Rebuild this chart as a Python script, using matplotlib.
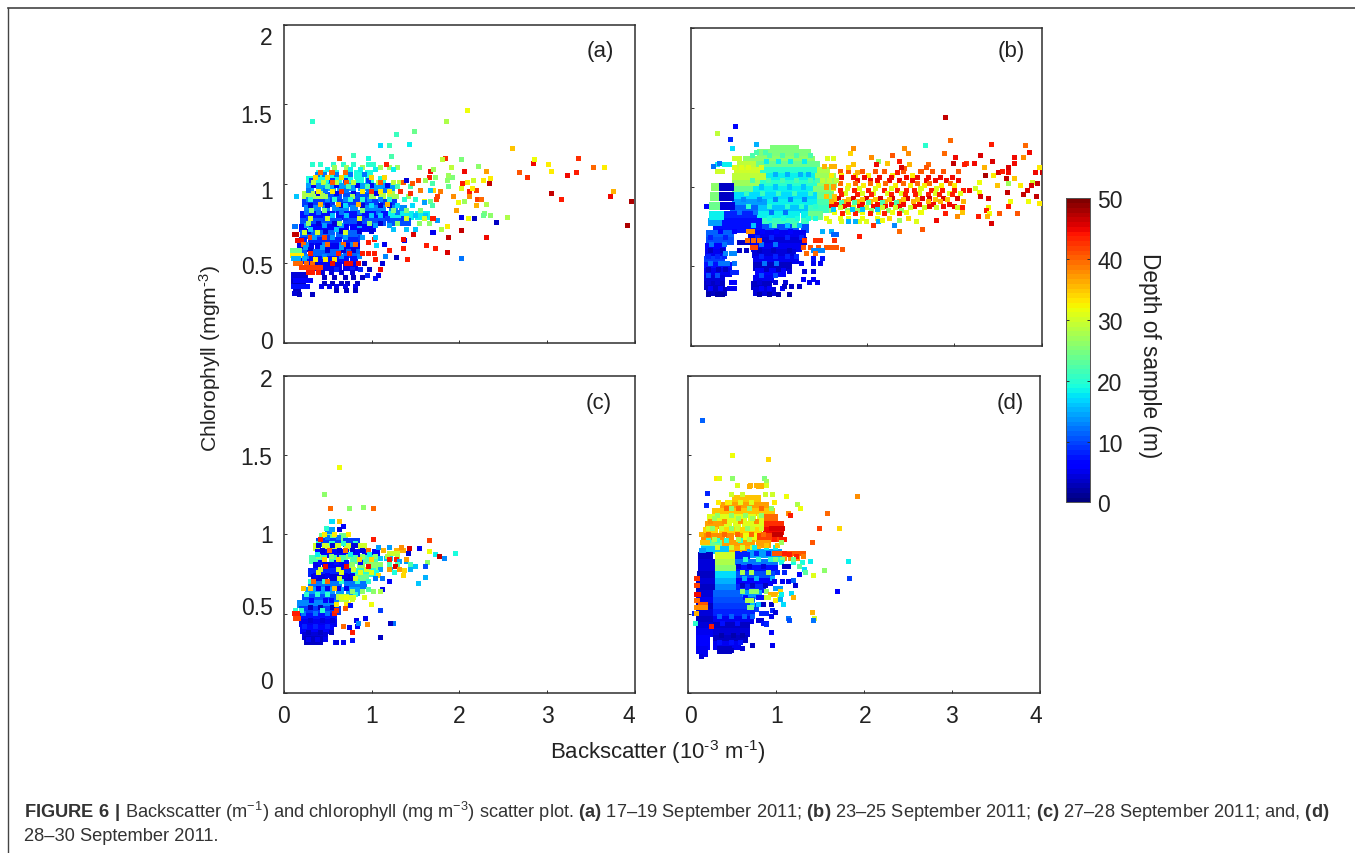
import matplotlib
matplotlib.use("Agg")
import matplotlib.pyplot as plt
from matplotlib.colors import Normalize
from matplotlib.cm import ScalarMappable
from matplotlib.lines import Line2D
from matplotlib.transforms import Affine2D

plt.rcParams['font.family'] = ['Liberation Sans', 'DejaVu Sans']
plt.rcParams['mathtext.fontset'] = 'custom'
plt.rcParams['mathtext.rm'] = 'Liberation Sans'
plt.rcParams['mathtext.bf'] = 'Liberation Sans:bold'
plt.rcParams['mathtext.default'] = 'regular'

# rows: (chlorophyll, depth, [backscatter...]); pts: (backscatter, chlorophyll, depth)
a_fill = [
 (1.06,19,[.42,.58,.72,.85,.97]),
 (1.02,19,[.3,.4,.5,.62,.74,.86,.98,1.12]),
 (.98,14,[.3,.42,.55,.66,.78,.9,1.0,1.1,1.22]),
 (.93,28,[.26,.33,.42,1.0,1.12,1.22]),
 (.92,10,[.52,.62,.72,.82,.92]),
 (.88,9,[.26,.34,.44,.54,.64,.74,.84,.94,1.04,1.14,1.24]),
 (.84,13,[.28,.38,.48,.6,.7,.8,.92,1.02,1.12,1.25,1.36]),
 (.8,7,[.24,.34,.44,.54,.64,.74,.84,.94,1.04,1.14]),
 (.8,18,[1.24,1.34,1.44,1.54,1.62]),
 (.76,10,[.24,.32,.42,.52,.62,.72,.82,.92,1.02,1.12,1.22,1.32,1.4]),
 (.72,6,[.22,.32,.42,.5,.6,.7,.8,.9,1.0]),
 (.68,11,[.24,.34,.44,.54,.64,.74,.84]),
 (.64,8,[.22,.32,.42,.52,.62,.72,.82]),
 (.6,5,[.2,.3,.4,.5,.6,.72,.82]),
 (.56,11,[.22,.32,.42,.52,.62,.72,.82]),
 (.52,7,[.2,.3,.4,.5,.6,.7,.8]),
 (.48,5,[.32,.42,.52,.62,.72,.8]),
 (.42,4,[.13,.18,.23]),
 (.37,3,[.13,.17,.2]),
]
a_rows = [
 (1.06,12,[.38,.46,.6,.76,.92]), (1.02,9,[.32,.55,.7,.96]), (.99,5,[.34,.6,.84,1.0,1.18]), (.96,12,[.28,.48,.72,.96,1.16]),
 (.94,5,[.38,.6,.8,1.06]), (.9,13,[.28,.5,.7,.98,1.1]), (.86,4,[.3,.5,.66,.9,1.1,1.2]), (.82,12,[.26,.4,.66,.86,1.08,1.3]),
 (.78,9,[.28,.48,.7,.9,1.18,1.36]), (.74,14,[.26,.46,.66,.86,1.04,1.2]), (.7,4,[.28,.48,.66,.86,1.0]), (.66,9,[.3,.5,.7,.88]),
 (.62,13,[.26,.46,.66,.78]), (.58,4,[.3,.5,.68,.8]), (.54,13,[.26,.46,.66,.86]), (.5,3,[.36,.56,.76,.92]), (.46,8,[.4,.6,.78,.88]),
 (.44,4,[.44,.54,.66,.78]),
 (.58,24,[.1,.14,.18]), (.55,33,[.1,.15,.2]), (.53,15,[.11,.17,.24]),
 (.5,40,[.13,.19,.26,.33]), (.47,42,[.2,.25,.3,.36,.42]), (.44,44,[.28,.33,.4]),
 (.33,3,[.13,.17,.15]), (.31,4,[.12,.14]), (.35,7,[.11,.16,.21,.27]),
 (.39,6,[.14,.19,.25,.3]), (.37,3,[.47,.56,.66,.73,.84]), (.35,5,[.43,.52,.6,.7,.82]),
 (.33,3,[.6,.72,.82]), (.41,3,[.46,.58,.7,.8,.9]),
 (.68,47,[.12,.15]), (.73,12,[.12,.13]), (.64,45,[.16,.2]), (.66,42,[.3,.46]),
 (1.12,20,[.33,.42,.57,.68,.8,.96,1.02]), (1.1,27,[.58,.72,.9,1.1,1.2,1.3]),
 (1.09,18,[.5,.76,.88,1.05,1.25]), (1.07,40,[.42,.55,.7]), (1.04,34,[.36,.5,.66,1.0,1.15]),
 (1.01,29,[.34,.45,.6,.8,1.08,1.25,1.32]), (1.01,41,[.56,.72,1.1,1.36]), (.98,22,[.5,.74,.95,1.3,1.44]),
 (.95,33,[.4,.56,.9,1.1,1.2]), (.95,43,[.66,1.0,1.33]), (.92,27,[.34,.48,.78,1.0,1.28,1.42]),
 (.9,20,[.3,.58,.76,.9,1.2,1.38,1.5]), (.87,36,[.42,.62,.85,1.18]), (.86,17,[.7,1.0,1.3,1.47]),
 (.83,25,[.32,.46,.9,1.25,1.4,1.56]), (.8,16,[.56,.72,1.0,1.1,1.5,1.62]), (.78,30,[.3,.5,.86,1.4,1.6]),
 (.75,26,[.28,.64,.98,1.3,1.55,1.66]), (.75,4,[.4,.58,.86,1.1]), (.71,16,[.3,.6,1.25,1.4,1.5]),
 (.69,30,[.24,.38,.7]), (.66,14,[.35,.56,.7,.9]), (.62,40,[.22,.5,.68,.82]), (.6,14,[.25,.44,.66]),
 (.56,44,[.3,.62,.75,.9,.96]), (.52,33,[.36,.48,.58]), (.5,45,[.56,.72,.85,.76]),
]
a_pts = [
 (.33,1.39,20),(2.09,1.46,32),(1.856,1.39,28),(1.49,1.33,24),(1.29,1.31,21),(1.1,1.24,17),(1.2,1.24,21),
 (1.43,1.25,18),(1.23,1.17,22),(.8,1.18,21),(.96,1.16,19),(.64,1.16,41),(1.17,1.12,44),(1.84,1.16,43),
 (2.02,1.15,25),(2.22,1.11,26),(2.61,1.22,35),(2.84,1.13,45),(2.86,1.15,32),(3.01,1.12,33),(3.05,1.08,33),
 (3.36,1.16,43),(3.53,1.1,40),(3.65,1.1,33),(3.33,1.07,44),(3.23,1.05,45),(2.69,1.07,41),(2.78,1.04,43),
 (3.05,.94,47),(3.16,.9,44),(3.76,.95,36),(3.72,.92,45),(3.96,.89,48),(3.92,.74,48),(2.55,.79,28),(2.42,.755,3),
 (2.31,.66,45),(2.02,.53,12),(1.87,.57,46),(2.02,.705,47),(1.88,.66,47),(1.87,.73,33),(1.8,.71,28),(1.63,.61,44),
 (1.73,.59,44),(1.41,.52,44),(1.29,.535,3),(1.36,.59,44),(1.2,.58,44),(.15,.92,16),
 (1.67,1.08,45),(1.66,1.04,44),(2.06,1.08,45),(2.31,1.08,37),(2.36,1.03,33),(2.34,1.0,47),(2.27,1.02,33),
 (2.16,1.02,30),(2.09,1.01,33),(2.04,1.0,44),(2.02,.97,31),(2.11,.95,44),(2.19,.96,42),(2.15,.97,33),(2.11,.92,38),
 (2.21,.9,42),(2.25,.9,40),(2.06,.89,27),(1.99,.88,32),(1.93,.92,38),(2.31,.87,28),(2.2,.86,36),(1.97,.83,37),
 (2.29,.81,25),(2.35,.8,26),(2.27,.8,24),(2.1,.78,32),(2.17,.78,3),(2.03,.79,5),(1.75,.77,14),(1.78,.95,39),
 (1.75,.92,42),(1.6,.89,32),(1.67,.89,24),(1.6,.88,14),(1.69,.86,22),(1.74,.9,42),(1.56,.96,39),(1.71,.96,34),
 (1.67,.96,16),(1.88,.985,24),(1.86,1.02,26),(1.92,1.04,25),(1.88,1.055,27),(1.91,1.1,29),(1.81,1.15,29),
 (1.73,1.04,26),(1.71,1.09,27),(1.55,1.1,25),(1.53,1.02,42),(1.47,1.0,41),(1.61,1.02,27),(1.69,1.0,22),
 (1.44,.94,43),(1.4,1.02,4),(1.7,.78,44),(1.7,.69,5),(1.48,.68,46),(1.38,.64,5),(1.36,.65,45),(1.15,.62,5),
 (1.06,.61,17),(.96,.63,44),(1.03,.65,44),(1.05,.66,16),(1.1,.46,45),(1.16,.54,13),(1.13,.5,4),(1.05,.52,44),
 (1.03,.56,44),(.98,.46,3),(.95,.42,8),(1.05,.405,7),(1.08,.42,5),(.33,.3,3),(.18,.3,3),
]

b_fill = [
 (1.24,25,[.95,1.02,1.1,1.18]), (1.21,25,[.8,.88,.94,1.02,1.1,1.18,1.26,1.32]),
 (1.17,26,[.64,.72,.8,.88,.96,1.04,1.12,1.2,1.28,1.36]),
 (1.14,29,[.58,.65,.71]), (1.14,24,[.79,.87,.95,1.03,1.11,1.19,1.27,1.35,1.42]),
 (1.1,30,[.54,.6,.68,.76]), (1.1,20,[.84,.92,1.0,1.08,1.16,1.24,1.32,1.4]), (1.1,28,[1.48,1.54]),
 (1.06,29,[.52,.58,.66,.74,.82]), (1.06,18,[.9,.98,1.06,1.14,1.22,1.3,1.38]), (1.06,27,[1.46,1.54,1.6]),
 (1.02,27,[.52,.6,.68,.76]), (1.02,20,[.84,.92,1.0,1.08,1.16,1.24,1.32,1.4]), (1.02,27,[1.48,1.56,1.62]),
 (.98,24,[.52,.6,.68]), (.98,18,[.76,.84,.92,1.0,1.08,1.16,1.24,1.32,1.38]), (.98,25,[1.44,1.52,1.58]),
 (.94,17,[.52,.6,.68,.76,.84,.92,1.0,1.08,1.16,1.24,1.32,1.4]), (.94,24,[1.48,1.56]),
 (.9,14,[.52,.6,.68,.76,.84]), (.9,18,[.92,1.0,1.08,1.16,1.24,1.32,1.4]), (.9,22,[1.48,1.54]),
 (.86,11,[.5,.58,.66,.74]), (.86,16,[.82,.9,.98,1.06,1.14,1.22,1.3]), (.86,21,[1.38,1.46,1.52]),
 (.82,8,[.4,.48,.56,.64,.72]), (.82,18,[.8,.88,.96,1.04,1.12,1.2,1.3]), (.82,24,[1.38,1.46]),
 (.78,7,[.36,.44,.52,.6,.68,.78]), (.78,21,[.86,.94,1.02,1.1,1.18,1.3]),
 (.74,7,[.3,.38,.46,.54,.62,.7,.78]), (.74,10,[.86,.94,1.02,1.1,1.18,1.3]),
 (.78,14,[.24,.31]), (.82,18,[.26,.33]), (.88,24,[.26,.31]), (.94,25,[.27,.32]), (1.0,26,[.28,.33]),
 (1.0,3,[.37,.44]), (.94,3,[.37,.44]), (.88,4,[.38,.45]),
 (.7,11,[.22,.28,.36,.44]), (.7,5,[.7,.78,.86,.94,1.02,1.1,1.18,1.26]),
 (.66,10,[.22,.28,.36,.44]), (.66,4,[.72,.8,.88,.96,1.04,1.12,1.2,1.28]),
 (.62,6,[.21,.27,.35]), (.62,5,[.74,.82,.9,.98,1.06,1.14,1.22]),
 (.58,5,[.21,.26,.34]), (.58,4,[.75,.83,.91,.99,1.07,1.15]),
 (.54,9,[.2,.26,.34]), (.54,5,[.76,.84,.92,1.0,1.08,1.18]),
 (.5,7,[.2,.26,.34,.42]), (.5,3,[.76,.84,.92,1.0,1.1]),
 (.46,5,[.2,.26,.34,.42]), (.46,6,[.78,.86,.94,1.04]),
 (.42,4,[.2,.26,.34]), (.42,5,[.76,.82,.9]),
 (.38,3,[.2,.26,.34]), (.38,3,[.74,.8,.88]),
 (.34,3,[.22,.28,.36]), (.34,4,[.76,.84,.92]),
]
b_rows = [
 (1.2,22,[.7,.9,1.05,1.2,1.36]), (1.16,18,[.86,1.0,1.14,1.3]), (1.12,31,[.5,.58,.66,.8]), (1.08,15,[.96,1.1,1.25,1.34]),
 (1.04,22,[.7,.88,1.04,1.2,1.36,1.44]), (1.0,16,[.8,.96,1.12,1.28]), (.96,21,[.64,.82,1.0,1.18,1.36]), (.92,13,[.6,.78,.96,1.14,1.3]),
 (.88,20,[.66,.9,1.1,1.26,1.42]), (.84,12,[.56,.74,.92,1.08]), (.8,19,[.9,1.06,1.22,1.34,1.42]), (.76,16,[.72,.92,1.1,1.24]),
 (.76,22,[.95,1.18]), (.72,6,[.34,.5,.66,.82,.98,1.14]), (.68,8,[.22,.4,.76,.92,1.1,1.26]), (.64,12,[.24,.38,.8,.96]),
 (.6,3,[.22,.36,.78,.94,1.12]), (.56,8,[.2,.3,.38,.8,.96,1.1,1.2]), (.52,12,[.22,.34,.84,.98]), (.48,3,[.2,.32,.4,.86,1.0]),
 (.44,10,[.2,.3,.8,.96]), (.4,4,[.2,.3,.78,.96,1.08]), (.36,6,[.22,.34,.8,.9,1.04]), (.32,2,[.2,.3,.36,.78,.9,1.0,1.12]),
 (1.1,41,[1.7,1.8,1.95,2.1,2.2,2.42,2.62,2.75,2.88,3.05]), (1.07,33,[1.6,1.72,1.88,2.02,2.3,2.52]),
 (1.06,45,[1.72,1.85,1.98,2.15,2.28,2.46,2.58,2.7,2.84,2.98]),
 (1.04,45,[1.9,2.04,2.12,2.26,2.37,2.52,2.68,2.78,2.91,3.05]), (1.02,40,[1.7,1.88,2.05,2.22,2.42,2.58,2.72,2.96]),
 (1.01,33,[1.8,1.97,2.14,2.33,2.5,2.66,2.85,3.0]), (.99,31,[1.62,1.78,1.92,2.1,2.28,2.62,2.8]),
 (.98,44,[1.7,1.86,2.02,2.2,2.35,2.45,2.55,2.74,2.87,3.0,3.1]), (.96,31,[1.76,1.95,2.08,2.24,2.4,2.6,2.78,2.94,3.07]),
 (.95,44,[1.72,1.9,2.06,2.28,2.44,2.56,2.7,2.83,2.98]), (.93,46,[1.68,1.85,2.0,2.16,2.3,2.47,2.64,2.72,2.88,3.03]),
 (.92,35,[1.64,1.8,1.96,2.1,2.26,2.42,2.58,2.78,2.92]), (.91,36,[1.6,1.75,1.9,2.05,2.22,2.38,2.53,2.7,2.84,3.1]),
 (.9,22,[1.72,1.86,2.02,2.18,2.34]), (.89,45,[1.66,1.8,1.96,2.12,2.28,2.42,2.6,2.76,2.94]),
 (.88,45,[1.6,1.75,1.92,2.08,2.22,2.38,2.55,2.72,2.88,3.0]), (.87,30,[1.7,1.85,2.0,2.18,2.33,2.5,2.66,2.8,3.04]),
 (.85,26,[1.6,1.78,1.9,2.06,2.25,2.4]), (.84,32,[1.64,1.8,1.96,2.14,2.3,2.46,2.62]), (.83,44,[1.73,1.88,2.04,2.2,2.38,2.9]), (.86,16,[1.62,1.84,1.96,2.12]),
 (.8,32,[1.55,1.7,1.8,1.95,2.12]), (.78,31,[1.58,1.72,1.92,2.0]), (.78,15,[1.8,1.88,2.14]),
 (1.0,37,[1.55,1.62]), (1.04,29,[1.5,1.58,1.66]), (1.13,36,[1.52,1.6,1.64]), (1.18,31,[1.56,1.62]),
 (.94,35,[1.55,1.64]), (.72,15,[1.5,1.6]), (.7,11,[1.62,1.66]), (.66,43,[1.3,1.42,1.48,1.64]),
 (.62,41,[1.28,1.36,1.45,1.55,1.6,1.66]), (.6,13,[1.4,1.45,1.5]), (.58,40,[1.32,1.42]), (.55,7,[1.4,1.5]),
 (.52,5,[1.26,1.4,1.48]), (.47,4,[1.12,1.3,1.4]), (.42,6,[1.28,1.4]), (.4,5,[1.35,1.44]), (.37,3,[1.07,1.15,1.24]),
 (.58,13,[.4,.46,.5]), (.52,12,[.36,.42,.5]), (.46,8,[.48,.52]), (.4,6,[.46,.5]), (.36,5,[.44,.5]),
 (.65,3,[.55,.6,.66]), (.6,3,[.55,.64]), (.66,40,[.65,.72,.78]), (.62,42,[.7,.74]), (.72,38,[.66,.7]),
 (1.22,22,[.75,.85]), (1.18,30,[.5,.56]), (1.14,18,[.3,.38,.44]), (1.1,30,[.3,.36]),
]
b_pts = [
 (2.9,1.44,47),(.515,1.38,6),(.31,1.34,29),(2.96,1.29,40),(2.67,1.26,20),(3.42,1.265,44),(3.81,1.26,40),(3.85,1.22,45),
 (2.89,1.21,40),(3.3,1.2,46),(3.68,1.185,45),(3.79,1.185,38),(3.01,1.185,45),(3.43,1.16,46),(2.99,1.15,47),(3.14,1.15,43),
 (3.11,1.14,44),(3.23,1.15,45),(3.34,1.125,36),(3.61,1.125,46),(3.97,1.125,33),(3.68,1.15,45),(3.92,1.09,45),(4.0,1.09,47),
 (3.62,1.09,45),(3.5,1.09,46),(3.55,1.1,44),(3.35,1.07,48),(3.44,1.07,33),(3.59,1.055,47),(3.68,1.055,35),(3.28,1.03,32),
 (3.61,1.025,27),(3.49,1.01,35),(3.75,1.01,33),(3.89,1.03,30),(3.94,1.02,47),(3.88,1.01,46),(3.17,.975,45),(3.24,.99,30),
 (3.28,.965,32),(3.3,.94,46),(3.39,.93,46),(3.6,.965,47),(3.83,.975,46),(3.79,.955,47),(3.93,.94,47),(3.64,.91,32),
 (3.61,.88,44),(3.84,.91,32),(3.97,.895,33),(3.39,.87,32),(3.37,.85,44),(3.4,.835,32),(3.51,.835,41),(3.72,.835,41),
 (3.27,.815,44),(3.38,.815,36),(3.42,.77,46),(3.09,.87,44),(3.09,.84,35),(3.04,.815,38),(2.8,.79,45),(2.64,.73,41),
 (2.37,.72,40),(2.32,.755,13),(2.08,.755,43),(1.92,.685,44),(1.73,.605,41),(2.57,.78,31),(2.48,.8,34),(2.26,.8,34),
 (2.18,.79,32),(2.38,.79,27),(1.85,1.245,38),(1.82,1.21,34),(2.06,1.185,38),(2.43,1.245,38),(2.48,1.21,38),(2.3,1.2,41),
 (2.38,1.16,44),(2.24,1.15,35),(2.14,1.16,26),(2.11,1.14,45),(2.49,1.14,36),(2.43,1.115,41),(2.4,1.125,46),(2.71,1.14,40),
 (2.68,1.125,41),(2.35,1.09,44),(1.85,1.14,35),(1.8,1.125,34),(1.9,1.09,36),(.45,1.3,8),(.33,1.15,12),(.26,1.13,12),
 (.18,.88,6),(.75,1.27,15),(.48,1.24,17),
]

c_fill = [
 (.98,24,[.45,.55,.68]), (.95,9,[.42,.5,.6,.72,.82]), (.92,30,[.38,.48,.6,.74,.9]),
 (.88,6,[.4,.5,.6,.7,.82,.94,1.05]), (.84,22,[.34,.44,.56,.68,.8,.92,1.02]), (.8,5,[.38,.48,.58,.66]),
 (.8,26,[.76,.88,1.0,1.08]), (.76,8,[.32,.42,.52,.62,.72]), (.76,20,[.82,.92,1.0]),
 (.72,4,[.36,.46,.56,.66,.76]), (.72,24,[.86,.92]), (.68,12,[.32,.42,.52,.62,.74,.84,.9]),
 (.64,14,[.29,.36,.44,.54,.64,.76,.82]), (.6,10,[.26,.32,.42,.52,.6]), (.6,28,[.64,.7]),
 (.56,13,[.2,.26,.34,.42,.52,.58]), (.52,9,[.22,.28,.36,.44,.54,.6]), (.48,7,[.2,.24,.32,.4,.5,.56]),
 (.44,5,[.22,.28,.36,.44,.52,.56]), (.4,6,[.24,.3,.38,.46,.52]), (.36,4,[.26,.32,.4,.46]), (.33,3,[.28,.34,.4]),
]
c_rows = [
 (.98,12,[.5,.62]), (.94,20,[.4,.55,.68,.82]), (.9,4,[.44,.64,.78,.9]), (.86,26,[.4,.54,.74,.9,1.04]), (.82,7,[.42,.6,.72,.88]),
 (.78,30,[.42,.62,.8,.94]), (.74,5,[.36,.5,.7,.78]), (.7,20,[.3,.46,.66,.84,.96]), (.66,5,[.4,.5,.62,.72]), (.62,20,[.26,.38,.5,.82]),
 (.58,6,[.32,.48,.54]), (.54,3,[.3,.42,.56]), (.5,12,[.22,.36,.5]), (.46,4,[.3,.44,.56]), (.42,8,[.24,.36,.5]), (.38,3,[.28,.42,.54]),
 (.34,5,[.28,.38,.48]),
 (.92,14,[1.08,1.2]), (.9,36,[1.14,1.28,1.34,1.36]), (.88,30,[1.2,1.26,1.3]), (.88,4,[1.42]), (.85,16,[1.1,1.17,1.22]),
 (.86,28,[1.18,1.3]), (.84,44,[1.2,1.28]), (.83,14,[1.32,1.4]), (.81,22,[1.2,1.3,1.44]), (.8,46,[1.27]),
 (.78,14,[1.1,1.22]), (.78,37,[1.2,1.32]), (.76,19,[1.06,1.26]), (.74,34,[1.08,1.36]), (.72,12,[1.04,1.12]),
 (1.02,13,[.5,.55]), (1.0,33,[.46,.58,.74]), (.97,44,[.42,1.02]), (.93,4,[.4,.56,.8,.82]), (.9,40,[.52,.7,.96]),
 (.87,18,[.38,.76,.98]), (.84,34,[.46,.62,.86,1.0]), (.8,45,[.48,.72,.96]), (.76,31,[.4,.66,.88,1.0]), (.72,30,[.64,.82]),
 (.7,40,[.34,.5]), (.66,35,[.22,.3,.58]), (.64,26,[.78,.9,1.02]), (.6,31,[.66,.74,.8,.92]), (.56,33,[.6,.72,.74]),
 (.52,20,[.14,.2,.44]), (.5,44,[.12,.16,.58]), (.47,42,[.13,.17]),
]
c_pts = [
 (.63,1.42,32),(.47,1.25,26),(.53,1.16,40),(.75,1.16,26),(.91,1.17,26),(1.02,1.16,40),(.55,1.08,17),(.63,1.08,35),
 (.49,1.04,20),(.55,1.03,14),(.68,1.05,6),(.63,1.03,4),(1.66,.96,42),(1.55,.91,5),(1.66,.89,32),(1.73,.87,18),
 (1.77,.86,47),(1.83,.85,13),(1.96,.88,19),(1.43,.91,46),(1.34,.92,38),(1.4,.84,37),(1.5,.8,16),(1.64,.82,26),
 (1.62,.8,10),(1.44,.78,15),(1.37,.77,34),(1.62,.73,15),(1.53,.69,16),(1.2,.7,6),(1.12,.65,5),(.96,.65,22),
 (1.1,.64,28),(1.1,.52,9),(1.0,.56,32),(.95,.43,38),(.93,.47,5),(1.25,.44,12),(1.22,.44,3),(1.1,.35,3),(.78,.33,7),
 (.68,.32,5),(.59,.32,7),(.6,.32,4),(.68,.42,40),(.78,.38,44),(.84,.42,6),(.83,.46,5),(.85,.44,13),(.75,.41,5),
 (.7,.53,41),(.6,.52,43),(.78,.59,30),(.72,.6,32),(.76,.55,7),
]

d_fill = [
 (1.22,35,[.55,.63,.7,.78]), (1.18,37,[.42,.5,.58,.66,.74,.82,.88]), (1.14,35,[.32,.38,.46,.54,.62,.72,.8,.88,.94]),
 (1.1,31,[.27,.33,.43,.53,.63,.73,.83]), (1.1,40,[.92,.98]), (1.06,37,[.24,.3,.38]), (1.06,31,[.46,.56,.66,.76,.84]),
 (1.06,43,[.92,1.0,1.05]), (1.02,34,[.22,.3,.4,.5,.6,.7,.8]), (1.02,45,[.9,.98,1.04]),
 (.98,38,[.2,.28,.38,.48,.6]), (.98,32,[.68,.76]), (.98,42,[.84,.94,1.02]),
 (.94,24,[.2,.28,.36]), (.94,37,[.44,.54,.64,.72,.82,.9]), (.9,16,[.2,.28,.36,.44]), (.9,36,[.52,.6,.68,.78]),
 (.88,14,[.72,.8,.88,.96,1.02]), (.86,3,[.17,.24]), (.86,30,[.36,.44,.5]), (.86,8,[.58,.66]),
 (.82,4,[.17,.24,.28]), (.82,28,[.36,.44,.5]), (.82,12,[.58,.66,.74,.82,.9,.98]),
 (.78,4,[.16,.23,.28]), (.78,26,[.36,.44,.5]), (.78,7,[.6,.68,.76,.84,.92,.98]),
 (.74,3,[.15,.22,.28]), (.74,17,[.36,.44,.52]), (.74,10,[.6,.68,.76,.84,.94]),
 (.7,4,[.14,.2,.28]), (.7,15,[.36,.44,.52]), (.7,6,[.6,.68,.76,.84,.92]),
 (.66,3,[.14,.2,.28]), (.66,13,[.36,.44,.52]), (.66,8,[.6,.68,.76,.84]),
 (.62,4,[.14,.2,.28]), (.62,11,[.34,.42,.5,.58]), (.62,14,[.66,.74,.8]),
 (.58,5,[.14,.2,.28]), (.58,10,[.34,.42,.5,.58,.66,.72]),
 (.54,3,[.14,.2,.28]), (.54,9,[.34,.42,.5,.58,.66,.72,.76]),
 (.5,4,[.14,.2,.28]), (.5,8,[.34,.42,.5,.58,.66,.72]),
 (.46,3,[.14,.2,.28]), (.46,5,[.34,.42,.5,.58,.66,.7]),
 (.42,4,[.14,.2,.28]), (.42,3,[.34,.42,.5,.58,.66]),
 (.38,5,[.14,.2,.26]), (.38,4,[.34,.42,.5,.58,.66]),
 (.34,6,[.14,.2]), (.34,3,[.34,.42,.5,.58,.64]),
 (.3,6,[.14,.2]), (.3,5,[.34,.4,.48,.56]),
 (.27,5,[.14,.18]), (.27,3,[.38,.46]),
]
d_rows = [
 (1.2,31,[.48,.6,.72]), (1.16,40,[.44,.58,.7,.84]), (1.12,26,[.34,.5,.66,.84]), (1.08,38,[.26,.42,.6,.78]), (1.04,30,[.24,.38,.56,.74,.84]),
 (1.0,40,[.24,.42,.56,.72,.86]), (.96,20,[.24,.34,.44,.6]), (.92,30,[.34,.5,.62,.74]), (.92,18,[.76,.9,1.0]), (.88,8,[.56,.64,.78,.92]),
 (.84,20,[.66,.8,.94,1.02]), (.8,4,[.58,.7,.86]), (.76,28,[.62,.72,.92]), (.72,15,[.64,.78,.96]), (.68,3,[.62,.74,.88]),
 (.64,26,[.62,.72,.78,.9]), (.6,7,[.66,.8,.86]), (.56,16,[.74,.8]), (.48,11,[.36,.5,.64,.74]), (.44,7,[.4,.56]), (.36,2,[.38,.52,.62]), (.32,7,[.36,.5,.6]),
 (.72,43,[.1,.11]), (.68,42,[.1,.11]), (.62,45,[.1,.12]), (.58,40,[.1,.11]), (.56,41,[.15,.19,.2]),
 (.54,38,[.1,.14,.2]), (.5,8,[.08,.09]), (.5,36,[.1]), (.42,44,[.27]), (.44,20,[.09]),
 (.9,14,[.16,.18]), (.95,35,[.17,.22]), (1.0,36,[.16]), (1.18,8,[.21]), (.88,41,[.98,1.04,1.1,1.15,1.2,1.26,1.32]),
 (.85,38,[1.1,1.17,1.25]), (.84,25,[1.0,1.08,1.2]), (.82,19,[1.07,1.2,1.3]), (.8,3,[1.1,1.15]), (.76,8,[1.02,1.1]),
 (.7,5,[.98,1.08,1.14]), (.66,14,[1.0,1.05]), (.62,36,[.94,1.0]), (.6,30,[.9,.92,1.04]), (.58,28,[.68,.7,.72]),
 (.56,3,[.86,.95]), (.54,25,[.7,.72]), (.5,8,[.84,.9]), (.46,4,[.8,.84]), (.44,7,[.86,.9]), (1.04,46,[.95,1.0,1.05,1.08]),
 (1.0,47,[.98,1.02,1.05]), (.97,44,[.98,1.06,1.1]), (.93,35,[.9,1.02]), (1.3,36,[.7,.8,.84]), (1.25,30,[.5,.62,.88,.96]),
 (1.2,33,[.35,.45,.98]), (1.16,26,[.5,.7,.95]), (1.1,27,[.3,.58,.74]), (1.04,26,[.28,.5,.68]), (.97,28,[.3,.58,.7]),
]
d_pts = [
 (.17,1.72,11),(.51,1.5,32),(.92,1.47,34),(.33,1.35,33),(.36,1.35,31),(.51,1.35,26),(.87,1.35,25),(.89,1.33,27),
 (.71,1.31,36),(.78,1.31,36),(.84,1.31,36),(.89,1.31,31),(.57,1.31,31),(.22,1.26,8),(1.12,1.24,32),(1.25,1.19,28),
 (1.28,1.16,32),(1.93,1.24,38),(1.59,1.13,40),(1.15,1.13,38),(1.17,1.12,44),(1.5,1.04,42),(1.72,1.04,34),(1.42,.95,41),
 (1.06,.95,27),(1.1,.88,44),(1.16,.87,44),(1.24,.86,44),(1.32,.86,39),(1.2,.84,24),(1.39,.83,18),(1.83,.83,18),
 (1.27,.8,23),(1.33,.78,17),(1.55,.77,26),(1.27,.75,6),(1.34,.76,23),(1.43,.74,31),(1.84,.72,9),(1.7,.64,6),
 (1.2,.71,11),(1.22,.68,4),(1.05,.64,34),(1.07,.62,18),(1.18,.63,17),(1.2,.6,36),(1.05,.59,15),(1.0,.58,33),(1.09,.56,17),
 (1.42,.51,36),(1.44,.47,30),(1.43,.46,12),(1.14,.47,12),(1.16,.46,10),(.96,.52,8),(1.0,.51,4),(.95,.48,5),(.89,.43,8),
 (.95,.38,6),(.96,.3,5),(.74,.3,3),(.62,.28,4),(.5,.27,3),(.16,.23,4),(.2,.24,5),
]

panels = [("(a)", a_fill, a_rows, a_pts), ("(b)", b_fill, b_rows, b_pts),
          ("(c)", c_fill, c_rows, c_pts), ("(d)", d_fill, d_rows, d_pts)]
x_ticks = [0, 1, 2, 3, 4]
y_ticks = [0, .5, 1, 1.5, 2]
x_labels = ["0", "1", "2", "3", "4"]
y_labels = ["0", "0.5", "1", "1.5", "2"]
cbar_ticks = [0, 10, 20, 30, 40, 50]

W, H = 1355, 854
fig = plt.figure(figsize=(W / 100, H / 100), dpi=100, facecolor='white')

def box(left, top, right, bottom):
    return [left / W, 1 - bottom / H, (right - left) / W, (bottom - top) / H]

boxes = [box(283.7, 26, 635, 343.5), box(690.7, 29.3, 1042.3, 346.7),
         box(283.7, 376.7, 635, 694), box(687.7, 376.7, 1040, 694)]
label_xy = [(600, 51), (1011, 51), (599, 404), (1010, 404)]
ylab_shift = {0: [3, -1, -5, -9, -10], 2: [14, 9, 1, 0, -1]}
xlab_shift = {2: [0, 0, 0, 0, -6], 3: [3, 1, 1, 0, -4]}

cmap = plt.get_cmap('jet', 256)
norm = Normalize(0, 50)
ink = '#2f2f2f'

def unpack(rows):
    xs, ys, ds = [], [], []
    for y, d, vals in rows:
        for x in vals:
            xs.append(x); ys.append(y); ds.append(d)
    return xs, ys, ds

for i, (name, fill, rows, pts) in enumerate(panels):
    ax = fig.add_axes(boxes[i])
    xs, ys, ds = unpack(fill)
    ax.scatter(xs, ys, c=ds, cmap=cmap, norm=norm, marker='s', s=38, linewidths=0, zorder=2)
    xs, ys, ds = unpack(rows)
    ax.scatter(xs, ys, c=ds, cmap=cmap, norm=norm, marker='s', s=13, linewidths=0, zorder=3)
    ax.scatter([p[0] for p in pts], [p[1] for p in pts], c=[p[2] for p in pts], cmap=cmap, norm=norm,
               marker='s', s=13, linewidths=0, zorder=3)
    ax.set_xlim(0, 4)
    ax.set_ylim(0, 2)
    ax.set_xticks(x_ticks)
    ax.set_yticks(y_ticks)
    ax.tick_params(direction='in', length=2.5, width=0.7, color=ink, labelcolor='#222222',
                   labelsize=16.5, pad=8, top=False, right=False,
                   labelbottom=i >= 2, labelleft=i in (0, 2))
    if i in (0, 2):
        ax.set_yticklabels(y_labels)
        for lab, dy in zip(ax.get_yticklabels(), ylab_shift[i]):
            lab.set_transform(lab.get_transform() + Affine2D().translate(0, dy))
    if i >= 2:
        ax.set_xticklabels(x_labels)
        for lab, dx in zip(ax.get_xticklabels(), xlab_shift[i]):
            lab.set_transform(lab.get_transform() + Affine2D().translate(dx, 0))
    for s in ax.spines.values():
        s.set_linewidth(1.1)
        s.set_color(ink)
    lx, ly = label_xy[i]
    fig.text(lx / W, 1 - ly / H, name, fontsize=16, color='#222222', ha='center', va='center')

cax = fig.add_axes(box(1066, 199.3, 1090.3, 503.3))
cb = fig.colorbar(ScalarMappable(norm=norm, cmap=plt.get_cmap('jet', 64)), cax=cax, ticks=cbar_ticks)
cb.ax.tick_params(direction='in', length=2, width=0.7, color=ink, labelcolor='#222222',
                  labelsize=16.5, pad=5, left=True, right=True)
cb.outline.set_linewidth(0.7)
cb.outline.set_edgecolor('#555555')

fig.text(1149 / W, 1 - 355.5 / H, "Depth of sample (m)", rotation=270, fontsize=16.3, color='#222222', ha='center', va='center')
fig.text(210 / W, 1 - 358 / H, r"Chlorophyll (mgm$^{\text{-}3}$)", rotation=90, fontsize=15.2, color='#222222', ha='center', va='center')
fig.text(658 / W, 1 - 752 / H, r"Backscatter (10$^{\text{-}3}$ m$^{\text{-}1}$)", fontsize=15.9, color='#222222', ha='center', va='center')

fig.add_artist(Line2D([8 / W, 1], [1 - 8.5 / H, 1 - 8.5 / H], transform=fig.transFigure, color='#444444', lw=1.2))
fig.add_artist(Line2D([8 / W, 8 / W], [1 - 8.5 / H, 0], transform=fig.transFigure, color='#444444', lw=1.0))

fig.text(24 / W, 1 - 812 / H,
         r"$\mathbf{FIGURE\ 6\ |}$ Backscatter (m$^{-1}$) and chlorophyll (mg m$^{-3}$) scatter plot. "
         r"$\mathbf{(a)}$ 17–19 September 2011; $\mathbf{(b)}$ 23–25 September 2011; "
         r"$\mathbf{(c)}$ 27–28 September 2011; and, $\mathbf{(d)}$",
         fontsize=13.15, color='#333333', ha='left', va='center')
fig.text(24 / W, 1 - 837 / H, "28–30 September 2011.", fontsize=13.15, color='#333333', ha='left', va='center')

fig.savefig('out.png', dpi=100)
